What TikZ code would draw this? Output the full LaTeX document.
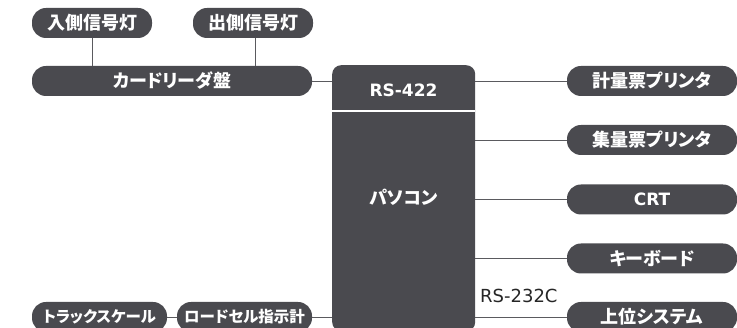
\documentclass[tikz,border=0pt]{standalone}
\usepackage{fontspec}
\setmainfont{Noto Sans CJK JP}[RawFeature=+palt]
\newfontfamily\latinfont{DejaVu Sans}
\usetikzlibrary{positioning}
\definecolor{boxgray}{HTML}{4A4A4F}
\definecolor{linegray}{HTML}{5A5A5E}
\tikzset{
    dev/.style = {rectangle, rounded corners=14pt, fill=boxgray, text=white, inner sep=0pt,
                  minimum height=30pt, font=\bfseries\fontsize{18}{18}\selectfont},
    smalldev/.style = {dev, minimum width=135pt, font=\bfseries\fontsize{15.5}{15.5}\selectfont},
    pcbox/.style = {rectangle, rounded corners=9pt, fill=boxgray, inner sep=0pt,
                    minimum width=143pt, minimum height=266pt, anchor=north west},
    pctext/.style = {text=white, font=\bfseries\fontsize{18}{18}\selectfont},
    port/.style = {text=black!85, font=\latinfont\fontsize{18}{18}\selectfont, anchor=west, inner sep=0pt},
    link/.style = {draw=linegray, line width=0.9pt}
}

\begin{document}
\begin{tikzpicture}[x=1pt, y=-1pt]
    \useasboundingbox (0,0) rectangle (737,328);
    % computer
    \node [pcbox] (pc) at (332,65) {};
    \draw [white, line width=1.6pt] (332,111) -- (475,111);
    \node [pctext] (rs422) at (403.5,90) {\latinfont\fontsize{17}{17}\selectfont RS-422};
    \node [pctext] (pasokon) at (403.5,197) {パソコン};
    \node [port] (rs232) at (480,296) {RS-232C};
    % left side
    \node [dev, minimum width=120pt] (insig) at (92,23) {入側信号灯};
    \node [dev, minimum width=120pt] (outsig) at (253,23) {出側信号灯};
    \node [dev, minimum width=280pt] (card) at (172,81) {カードリーダ盤};
    \node [smalldev] (truck) at (99.5,317) {トラックスケール};
    \node [smalldev] (load) at (244.5,317) {ロードセル指示計};
    % right side
    \node [dev, minimum width=170pt] (prn1) at (652,81) {計量票プリンタ};
    \node [dev, minimum width=170pt] (prn2) at (652,140) {集量票プリンタ};
    \node [dev, minimum width=170pt] (crt) at (652,199.5) {\latinfont\fontsize{17}{17}\selectfont CRT};
    \node [dev, minimum width=170pt] (kbd) at (652,258.5) {キーボード};
    \node [dev, minimum width=170pt] (host) at (652,317) {上位システム};
    % connectors
    \draw [link] (insig) -- (insig |- card.north);
    \draw [link] (outsig.south -| 255,0) -- (card.north -| 255,0);
    \draw [link] (card) -- (card -| pc.west);
    \draw [link] (truck) -- (load);
    \draw [link] (load) -- (load -| pc.west);
    \foreach \dv in {prn1, prn2, crt, kbd, host}
        \draw [link] (\dv -| pc.east) -- (\dv.west);
\end{tikzpicture}
\end{document}
